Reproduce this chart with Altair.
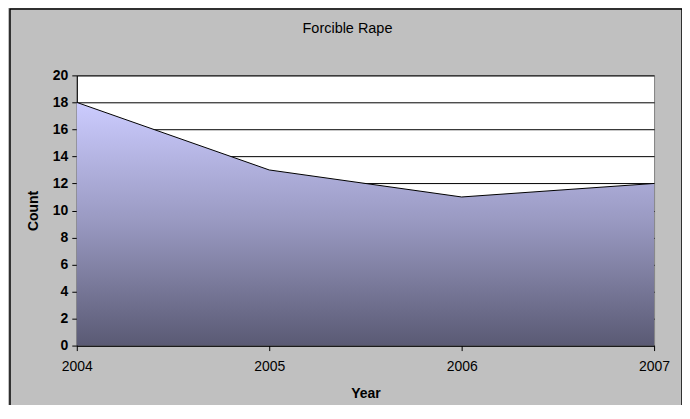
import altair as alt
import pandas as pd

years = [2004, 2005, 2006, 2007]
counts = [18, 13, 11, 12]
y_ticks = [0, 2, 4, 6, 8, 10, 12, 14, 16, 18, 20]

df = pd.DataFrame({"year": years, "count": counts})

FONT = "Liberation Sans"

gradient = alt.Gradient(
    gradient="linear",
    stops=[
        alt.GradientStop(color="#ccccff", offset=0),
        alt.GradientStop(color="#9898c0", offset=0.5),
        alt.GradientStop(color="#5a5a74", offset=1),
    ],
    x1=1, x2=1, y1=0, y2=1,
)

area = alt.Chart(df).mark_area(
    color=gradient,
    opacity=1,
    line={"color": "black", "strokeWidth": 1},
).encode(
    x=alt.X(
        "year:Q",
        scale=alt.Scale(domain=[2004, 2007], nice=False, zero=False),
        axis=alt.Axis(
            values=years, format="d", title="Year", grid=False,
            domainColor="black", tickColor="black", tickSize=5,
            labelFont=FONT, labelFontSize=14, labelColor="black",
            labelPadding=9, labelFlush=False,
            titleFont=FONT, titleFontSize=14, titleFontWeight="bold",
            titleColor="black", titlePadding=13,
        ),
    ),
    y=alt.Y(
        "count:Q",
        scale=alt.Scale(domain=[0, 20], nice=False),
        axis=alt.Axis(
            values=y_ticks, title="Count", grid=True, gridColor="black",
            gridOpacity=1, gridWidth=1,
            domainColor="black", tickColor="black", tickSize=5,
            labelFont=FONT, labelFontSize=14, labelFontWeight="bold",
            labelColor="black", labelPadding=4,
            titleFont=FONT, titleFontSize=14, titleFontWeight="bold",
            titleColor="black", titlePadding=12,
        ),
    ),
)

frame = alt.Chart(alt.Data(values=[{"a": 1}])).mark_rect(
    filled=False, stroke="black", strokeWidth=1.5
).encode(
    x=alt.value(-67), x2=alt.value(607),
    y=alt.value(-66.5), y2=alt.value(400),
)

chart = alt.layer(area, frame).properties(
    width=579,
    height=271,
    background="#c0c0c0",
    padding={"left": 69, "top": 67, "right": 28, "bottom": 59},
    autosize=alt.AutoSizeParams(type="none"),
    title=alt.TitleParams(
        "Forcible Rape", font=FONT, fontSize=14.5, fontWeight="normal",
        color="black", anchor="middle", offset=-28, dx=-18,
    ),
).configure_view(fill="white", stroke="#808080", strokeWidth=1)

chart.save("out.html", embed_options={"renderer": "svg", "actions": False})
